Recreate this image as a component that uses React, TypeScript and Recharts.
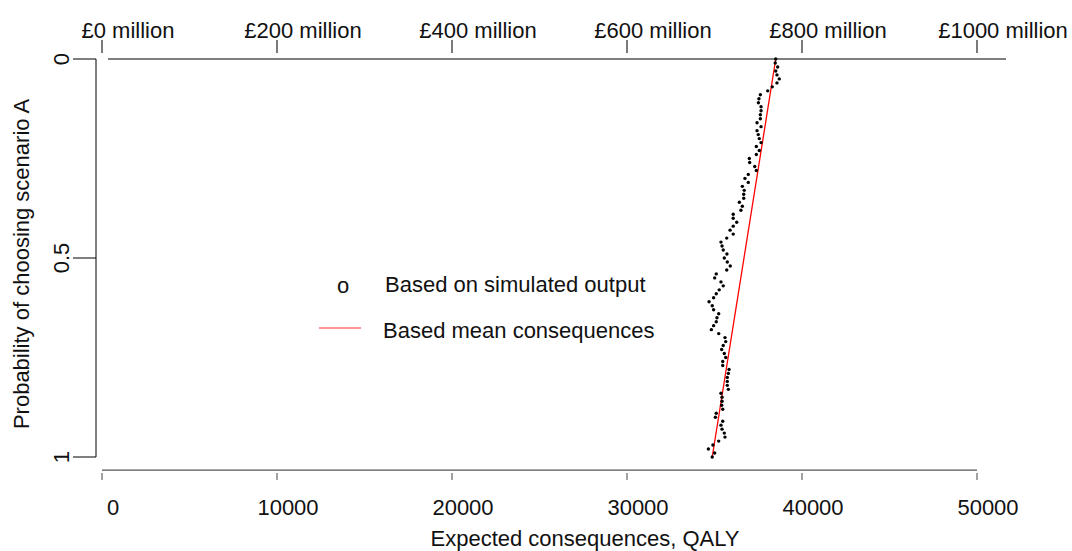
import React from 'react'
import {
  ComposedChart,
  Scatter,
  Line,
  XAxis,
  YAxis,
  ReferenceLine,
  Legend
} from 'recharts'

// simulated expected consequences (QALY), one per probability step
const simulatedQaly = [
  38500, 38470, 38610, 38500, 38570, 38700, 38570, 38300, 38040, 37620,
  37540, 37510, 37660, 37660, 37620, 37620, 37430, 37660, 37430, 37500,
  37560, 37660, 37390, 37560, 37390, 36990, 37010, 37300, 37390, 36930,
  36740, 36930, 36590, 36700, 36670, 36670, 36420, 36590, 36510, 36070,
  36070, 36270, 36070, 35890, 36070, 35700, 35370, 35430, 35500, 35710,
  35560, 35730, 35900, 35700, 35100, 35010, 35370, 35500, 35270, 35100,
  34950, 34690, 34870, 34950, 35240, 35140, 35100, 34950, 34820, 35240,
  35600, 35640, 35500, 35410, 35560, 35640, 35470, 35470, 35830, 35790,
  35730, 35730, 35730, 35790, 35370, 35430, 35430, 35410, 35470, 35100,
  35050, 35470, 35370, 35430, 35560, 35600, 35240, 34910, 34650, 35010,
  34870
]

const choiceProbability = [
  0, 0.01, 0.02, 0.03, 0.04, 0.05, 0.06, 0.07, 0.08, 0.09,
  0.1, 0.11, 0.12, 0.13, 0.14, 0.15, 0.16, 0.17, 0.18, 0.19,
  0.2, 0.21, 0.22, 0.23, 0.24, 0.25, 0.26, 0.27, 0.28, 0.29,
  0.3, 0.31, 0.32, 0.33, 0.34, 0.35, 0.36, 0.37, 0.38, 0.39,
  0.4, 0.41, 0.42, 0.43, 0.44, 0.45, 0.46, 0.47, 0.48, 0.49,
  0.5, 0.51, 0.52, 0.53, 0.54, 0.55, 0.56, 0.57, 0.58, 0.59,
  0.6, 0.61, 0.62, 0.63, 0.64, 0.65, 0.66, 0.67, 0.68, 0.69,
  0.7, 0.71, 0.72, 0.73, 0.74, 0.75, 0.76, 0.77, 0.78, 0.79,
  0.8, 0.81, 0.82, 0.83, 0.84, 0.85, 0.86, 0.87, 0.88, 0.89,
  0.9, 0.91, 0.92, 0.93, 0.94, 0.95, 0.96, 0.97, 0.98, 0.99,
  1
]

// mean consequences line: end points
const meanQaly = [38500, 34870]
const meanProbability = [0, 1]

const qalyTicks = [0, 10000, 20000, 30000, 40000, 50000]
const moneyTicks = [0, 200, 400, 600, 800, 1000]
const moneyTickLabels = ['£0 million', '£200 million', '£400 million', '£600 million', '£800 million', '£1000 million']
const probabilityTicks = [0, 0.5, 1]

const FONT = 'Liberation Sans, Arial, Helvetica, sans-serif'
const FS = 22

// rules drawn in data units: top rule at p = 0, bottom axis rule just below p = 1
const TOP_RULE_X = [343, 51657]
const BOTTOM_RULE_Y = 1.033

const simulated = simulatedQaly.map((q, i) => ({ x: q, y: choiceProbability[i] }))
const meanLine = meanQaly.map((q, i) => ({ x: q, y: meanProbability[i] }))

const BottomTick = ({ x, payload }: any) => (
  <g>
    <line x1={x} x2={x} y1={473} y2={480} stroke="#444" />
    <text x={x + 11} y={515} textAnchor="middle" fontSize={FS} fontFamily={FONT} fill="#111">
      {payload.value}
    </text>
  </g>
)

const TopTick = ({ x, index }: any) => (
  <g>
    <path d={`M${x},40V53`} stroke="#222" strokeWidth={1.2} fill="none" />
    <text x={x + 26} y={38} textAnchor="middle" fontSize={FS} fontFamily={FONT} fill="#111">
      {moneyTickLabels[index]}
    </text>
  </g>
)

const LeftTick = ({ y, payload }: any) => (
  <g>
    <line x1={73} x2={96} y1={y} y2={y} stroke="#000" />
    <text
      x={69}
      y={y}
      transform={`rotate(-90, 69, ${y})`}
      textAnchor="middle"
      fontSize={FS}
      fontFamily={FONT}
      fill="#111"
    >
      {payload.value}
    </text>
  </g>
)

const dotShape = (props: any) => <circle cx={props.cx} cy={props.cy} r={1.7} fill="#000" />

const renderLegend = ({ payload }: any) => (
  <svg width={400} height={100} style={{ display: 'block' }}>
    {(payload || []).map((entry: any) =>
      entry.type === 'line' ? (
        <g key={entry.value}>
          <line x1={19} x2={61} y1={78} y2={78} stroke="#ff3030" strokeWidth={1} />
          <text x={83} y={88} fontSize={FS} fontFamily={FONT} fill="#111">{entry.value}</text>
        </g>
      ) : (
        <g key={entry.value}>
          <text x={37} y={43} fontSize={FS} fontFamily={FONT} fill="#111">o</text>
          <text x={85} y={42} fontSize={FS} fontFamily={FONT} fill="#111">{entry.value}</text>
        </g>
      )
    )}
  </svg>
)

export default function App() {
  return (
    <div style={{ position: 'absolute', left: 0, top: 0, background: '#fff', fontFamily: FONT }}>
      <ComposedChart width={1072} height={551} margin={{ top: 14, right: 95, bottom: 14, left: 36 }}>
        <XAxis
          dataKey="x"
          type="number"
          domain={[0, 50000]}
          ticks={qalyTicks}
          interval={0}
          padding={{ left: 6, right: 0 }}
          height={80}
          axisLine={false}
          tickLine={false}
          tick={<BottomTick />}
          label={() => (
            <text x={585} y={546} textAnchor="middle" fontSize={FS} fontFamily={FONT} fill="#111">
              Expected consequences, QALY
            </text>
          )}
        />
        <XAxis
          xAxisId="top"
          orientation="top"
          dataKey="x"
          type="number"
          domain={[0, 1000]}
          allowDataOverflow
          ticks={moneyTicks}
          interval={0}
          padding={{ left: 6, right: 0 }}
          height={45}
          axisLine={false}
          tickLine={false}
          tick={<TopTick />}
        />
        <YAxis
          dataKey="y"
          type="number"
          domain={[0, 1]}
          reversed
          ticks={probabilityTicks}
          interval={0}
          width={60}
          stroke="#000"
          tickLine={false}
          tick={<LeftTick />}
          label={() => (
            <text
              x={29}
              y={264}
              transform="rotate(-90, 29, 264)"
              textAnchor="middle"
              fontSize={FS}
              fontFamily={FONT}
              fill="#111"
            >
              Probability of choosing scenario A
            </text>
          )}
        />
        <ReferenceLine
          segment={[{ x: 0, y: BOTTOM_RULE_Y }, { x: 50000, y: BOTTOM_RULE_Y }]}
          stroke="#555"
          strokeWidth={1.2}
          ifOverflow="visible"
        />
        <ReferenceLine
          segment={[{ x: TOP_RULE_X[0], y: 0 }, { x: TOP_RULE_X[1], y: 0 }]}
          stroke="#000"
          strokeWidth={1.2}
          ifOverflow="visible"
        />
        <Scatter
          name="Based on simulated output"
          data={simulated}
          fill="#000"
          shape={dotShape}
          isAnimationActive={false}
        />
        <Line
          name="Based mean consequences"
          data={meanLine}
          dataKey="y"
          type="linear"
          stroke="#ff0000"
          strokeWidth={1.3}
          dot={false}
          activeDot={false}
          isAnimationActive={false}
        />
        <Legend
          layout="vertical"
          align="center"
          verticalAlign="middle"
          content={renderLegend}
          wrapperStyle={{ left: 300, top: 250, width: 400, height: 100 }}
        />
      </ComposedChart>
    </div>
  )
}
